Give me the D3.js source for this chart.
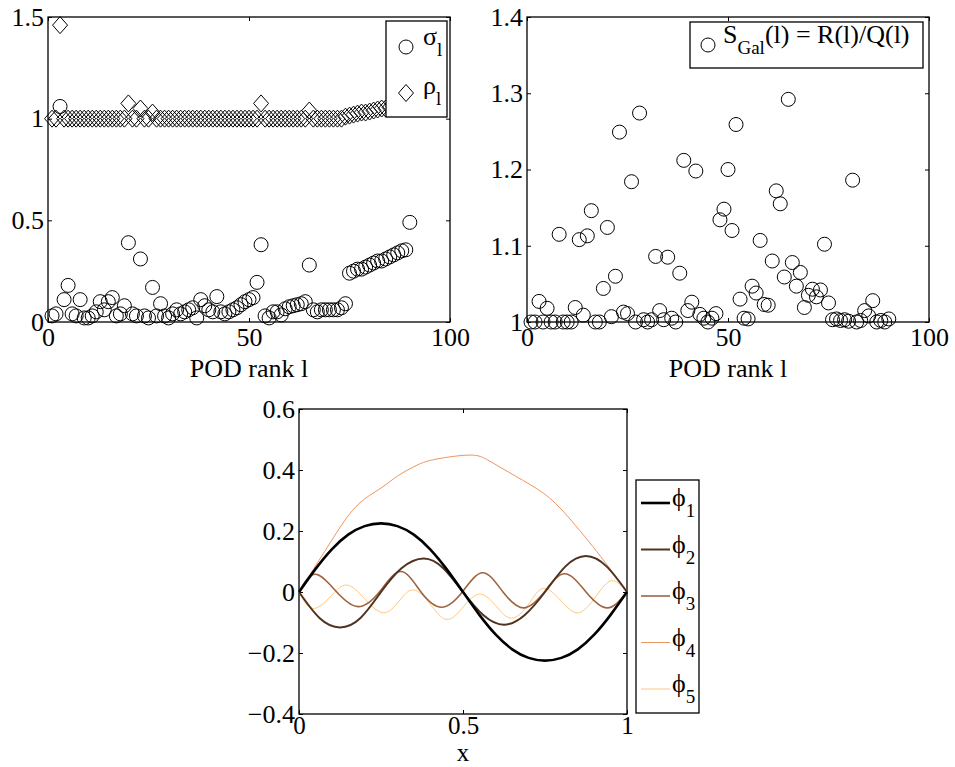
<!DOCTYPE html>
<html>
<head>
<meta charset="utf-8">
<script src="https://cdn.jsdelivr.net/npm/d3@7"></script>
<style>
body { margin: 0; background: #fff; }
text { font-family: "Liberation Serif", "Times New Roman", serif; fill: #000; }
</style>
</head>
<body>
<div id="chart"></div>
<script>
// POD rank l = 1..90
var rank = d3.range(1, 91);

var sigma = [0.03,0.04,1.06,0.11,0.18,0.04,0.03,0.11,0.02,0.02,
             0.03,0.05,0.10,0.06,0.10,0.12,0.03,0.04,0.08,0.39,
             0.04,0.03,0.31,0.03,0.02,0.17,0.03,0.09,0.03,0.02,
             0.04,0.06,0.04,0.05,0.06,0.07,0.02,0.11,0.08,0.06,
             0.05,0.125,0.05,0.04,0.05,0.06,0.07,0.085,0.10,0.11,
             0.12,0.195,0.38,0.03,0.02,0.05,0.05,0.035,0.065,0.075,
             0.08,0.085,0.09,0.10,0.28,0.06,0.05,0.06,0.06,0.06,
             0.06,0.06,0.07,0.09,0.24,0.25,0.26,0.26,0.27,0.28,
             0.29,0.30,0.30,0.31,0.32,0.33,0.34,0.35,0.355,0.49];

var rho = [1.0,1.0,1.46,1.0,1.0,1.0,1.0,1.0,1.0,1.0,
           1.0,1.0,1.0,1.0,1.0,1.0,1.0,1.0,1.0,1.075,
           1.0,1.0,1.05,1.0,1.0,1.03,1.0,1.0,1.0,1.0,
           1.0,1.0,1.0,1.0,1.0,1.0,1.0,1.0,1.0,1.0,
           1.0,1.0,1.0,1.0,1.0,1.0,1.0,1.0,1.0,1.0,
           1.0,1.0,1.075,1.0,1.0,1.0,1.0,1.0,1.0,1.0,
           1.0,1.0,1.0,1.0,1.04,1.0,1.0,1.0,1.0,1.0,
           1.0,1.0,1.0,1.01,1.015,1.02,1.025,1.03,1.03,1.035,
           1.04,1.045,1.05,1.05,1.055,1.06,1.065,1.07,1.075,1.08];

var sGal = [1.0,1.0,1.027,1.0,1.018,1.0,1.0,1.115,1.0,1.0,
            1.0,1.019,1.108,1.009,1.113,1.146,1.0,1.0,1.044,1.124,
            1.007,1.06,1.249,1.013,1.011,1.184,1.0,1.274,1.003,1.0,
            1.003,1.086,1.015,1.003,1.085,1.005,1.0,1.064,1.212,1.015,
            1.026,1.198,1.01,1.005,1.0,1.005,1.011,1.134,1.148,1.2,
            1.12,1.259,1.03,1.005,1.004,1.047,1.038,1.107,1.023,1.022,
            1.08,1.172,1.155,1.059,1.292,1.078,1.047,1.065,1.019,1.035,
            1.043,1.033,1.042,1.102,1.025,1.003,1.004,1.002,1.003,1.001,
            1.186,1.0,1.002,1.015,1.008,1.028,1.0,1.002,1.0,1.004];

// POD modes phi_1..phi_5 (x, value)
var phi1X = [0,0.05,0.1,0.15,0.2,0.25,0.3,0.35,0.4,0.45,0.5,0.55,0.6,0.65,0.7,0.75,0.8,0.85,0.9,0.95,1];
var phi1Y = [0,0.075,0.14,0.188,0.216,0.225,0.216,0.188,0.14,0.075,0,-0.075,-0.14,-0.188,-0.216,-0.225,-0.216,-0.188,-0.14,-0.075,0];
var phi2X = [0,0.0625,0.125,0.1875,0.25,0.3125,0.38,0.44,0.5,0.5625,0.625,0.6875,0.75,0.8125,0.875,0.9375,1];
var phi2Y = [0,-0.085,-0.116,-0.085,0,0.078,0.11,0.078,0,-0.076,-0.107,-0.076,0,0.084,0.118,0.084,0];
var phi3X = [0,0.05,0.115,0.18,0.245,0.31,0.372,0.435,0.498,0.56,0.622,0.685,0.748,0.81,0.875,0.94,1];
var phi3Y = [0,0.058,0,-0.048,0,0.067,0,-0.05,0,0.063,0,-0.052,0,0.06,0,-0.052,0];
var phi4X = [0,0.05,0.1,0.15,0.2,0.256,0.3,0.36,0.42,0.52,0.58,0.66,0.745,0.82,0.92,1];
var phi4Y = [0,0.085,0.17,0.25,0.305,0.345,0.38,0.416,0.436,0.449,0.43,0.38,0.324,0.247,0.116,0];
var phi5X = [0,0.041,0.095,0.145,0.2,0.257,0.305,0.349,0.4,0.45,0.5,0.55,0.6,0.648,0.7,0.745,0.8,0.852,0.905,0.953,1];
var phi5Y = [0,-0.054,-0.016,0.023,-0.022,-0.068,-0.03,0.007,-0.04,-0.09,-0.05,-0.007,-0.045,-0.086,-0.04,0.012,-0.03,-0.068,-0.015,0.037,0];

var phiLabels = ["1","2","3","4","5"];
var phiColors = ["#000000","#50321f","#9f643f","#ef955f","#ffc77f"];
var phiWidths = [2.6,2,1.6,1,1];

var w = 955, h = 767;
var svg = d3.select("#chart").append("svg").attr("width", w).attr("height", h);

function panel(x0, x1, y0, y1, xd, yd, xt, yt, pad, xpad, xsize) {
  var x = d3.scaleLinear().domain(xd).range([x0, x1]);
  var y = d3.scaleLinear().domain(yd).range([y1, y0]);
  var g = svg.append("g");
  var f = d3.format("~g");
  var bx = g.append("g").attr("transform", "translate(0," + y1 + ")")
    .call(d3.axisBottom(x).tickValues(xt).tickFormat(f).tickSizeInner(-4).tickSizeOuter(0).tickPadding(xpad));
  g.append("g").attr("transform", "translate(0," + y0 + ")")
    .call(d3.axisTop(x).tickValues(xt).tickFormat("").tickSizeInner(-4).tickSizeOuter(0));
  g.append("g").attr("transform", "translate(" + x0 + ",0)")
    .call(d3.axisLeft(y).tickValues(yt).tickFormat(f).tickSizeInner(-4).tickSizeOuter(0).tickPadding(pad));
  g.append("g").attr("transform", "translate(" + x1 + ",0)")
    .call(d3.axisRight(y).tickValues(yt).tickFormat("").tickSizeInner(-4).tickSizeOuter(0));
  g.selectAll(".domain").remove();
  g.selectAll(".tick line").attr("stroke", "#000");
  g.selectAll(".tick text").style("font-size", "26px").attr("fill", "#000");
  bx.selectAll(".tick text").style("font-size", xsize + "px");
  g.append("rect").attr("x", x0).attr("y", y0).attr("width", x1 - x0).attr("height", y1 - y0)
    .attr("fill", "none").attr("stroke", "#000").attr("stroke-width", 1.3);
  return {x: x, y: y, g: g};
}

function subText(g, x, y, main, sub, after) {
  var t = g.append("text").attr("x", x).attr("y", y).style("font-size", "26px");
  t.append("tspan").text(main);
  t.append("tspan").attr("dy", 11).style("font-size", "19px").text(sub);
  if (after) t.append("tspan").attr("dy", -11).text(after);
  return t;
}

var diamond = "M0,-8.5L7.5,0L0,8.5L-7.5,0Z";

// ---- panel A: sigma and rho
var A = panel(48, 450, 17, 322, [0, 100], [0, 1.5], [0, 50, 100], [0, 0.5, 1, 1.5], 4, 6, 26);
A.g.selectAll(".sig").data(rank).enter().append("circle")
  .attr("cx", function(d) { return A.x(d); })
  .attr("cy", function(d, i) { return A.y(sigma[i]); })
  .attr("r", 7).attr("fill", "none").attr("stroke", "#000").attr("stroke-width", 1);
A.g.selectAll(".rho").data(rank).enter().append("path")
  .attr("d", diamond)
  .attr("transform", function(d, i) { return "translate(" + A.x(d) + "," + A.y(rho[i]) + ")"; })
  .attr("fill", "none").attr("stroke", "#000").attr("stroke-width", 1);
A.g.append("text").attr("x", 249).attr("y", 377).attr("text-anchor", "middle").style("font-size", "26px").text("POD rank l");
var legA = A.g.append("g");
legA.append("rect").attr("x", 386).attr("y", 21).attr("width", 61).attr("height", 96)
  .attr("fill", "#fff").attr("stroke", "#000").attr("stroke-width", 1.3);
legA.append("circle").attr("cx", 406).attr("cy", 47).attr("r", 7).attr("fill", "none").attr("stroke", "#000");
legA.append("path").attr("d", diamond).attr("transform", "translate(406,93)").attr("fill", "none").attr("stroke", "#000");
subText(legA, 423, 45, "\u03C3", "l");
subText(legA, 423, 94, "\u03C1", "l");

// ---- panel B: S_Gal
var B = panel(527, 929, 17, 322, [0, 100], [1, 1.4], [0, 50, 100], [1, 1.1, 1.2, 1.3, 1.4], 4, 6, 26);
B.g.selectAll(".sg").data(rank).enter().append("circle")
  .attr("cx", function(d) { return B.x(d); })
  .attr("cy", function(d, i) { return B.y(sGal[i]); })
  .attr("r", 7).attr("fill", "none").attr("stroke", "#000").attr("stroke-width", 1);
B.g.append("text").attr("x", 728).attr("y", 377).attr("text-anchor", "middle").style("font-size", "26px").text("POD rank l");
var legB = B.g.append("g");
legB.append("rect").attr("x", 690).attr("y", 22).attr("width", 233).attr("height", 46)
  .attr("fill", "#fff").attr("stroke", "#000").attr("stroke-width", 1.3);
legB.append("circle").attr("cx", 708).attr("cy", 45).attr("r", 7).attr("fill", "none").attr("stroke", "#000");
subText(legB, 723, 43, "S", "Gal", "(l) = R(l)/Q(l)");

// ---- panel C: POD modes
var C = panel(299, 627, 409, 714, [0, 1], [-0.4, 0.6], [0, 0.5, 1], [-0.4, -0.2, 0, 0.2, 0.4, 0.6], 4, 2, 25);
var phis = [[phi1X, phi1Y], [phi2X, phi2Y], [phi3X, phi3Y], [phi4X, phi4Y], [phi5X, phi5Y]];
var line = d3.line().curve(d3.curveNatural)
  .x(function(d) { return C.x(d[0]); })
  .y(function(d) { return C.y(d[1]); });
phis.slice().reverse().forEach(function(p, j) {
  var k = phis.length - 1 - j;
  C.g.append("path").datum(d3.zip(p[0], p[1])).attr("d", line)
    .attr("fill", "none").attr("stroke", phiColors[k]).attr("stroke-width", phiWidths[k]);
});
C.g.append("text").attr("x", 463).attr("y", 761).attr("text-anchor", "middle").style("font-size", "25px").text("x");
var legC = C.g.append("g");
legC.append("rect").attr("x", 636).attr("y", 480).attr("width", 63).attr("height", 233)
  .attr("fill", "#fff").attr("stroke", "#000").attr("stroke-width", 1.3);
phiLabels.forEach(function(lab, i) {
  var yy = 503 + i * 46.5;
  legC.append("line").attr("x1", 641).attr("x2", 670).attr("y1", yy).attr("y2", yy)
    .attr("stroke", phiColors[i]).attr("stroke-width", phiWidths[i]);
  subText(legC, 672, yy + 3, "\u03D5", lab);
});
</script>
</body>
</html>
